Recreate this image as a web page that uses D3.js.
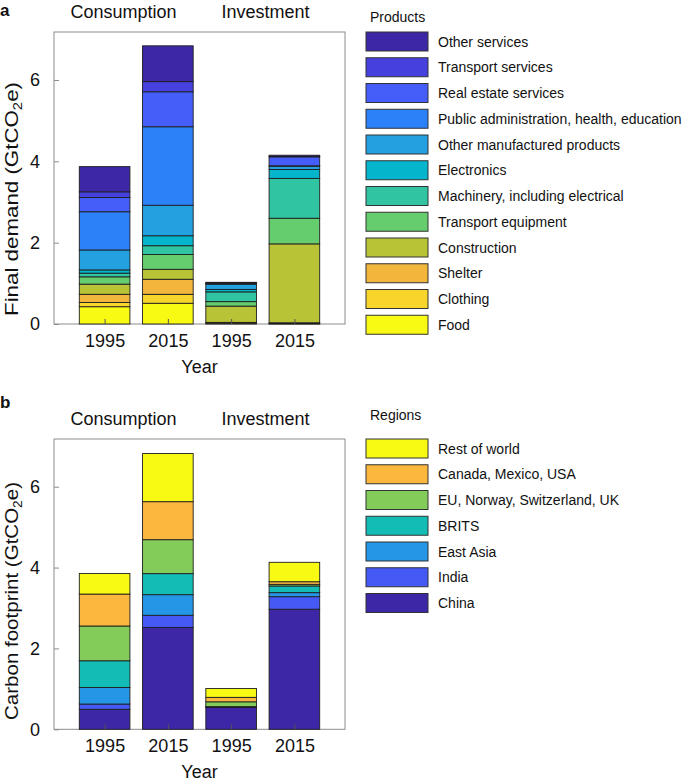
<!DOCTYPE html>
<html>
<head>
<meta charset="utf-8">
<script src="https://cdn.jsdelivr.net/npm/d3@7"></script>
<style>
  html, body { margin: 0; padding: 0; background: #fff; }
  svg { display: block; font-family: "Liberation Sans", Arial, Helvetica, sans-serif; }
</style>
</head>
<body>
<svg id="chart" width="685" height="781"></svg>
<script>
// ---------------- DATA ----------------
const years = ["1995", "2015", "1995", "2015"];
const groups = ["Consumption", "Investment"];
const yTicks = [0, 2, 4, 6];

// Products, listed bottom-to-top of the stack
const products = ["Food", "Clothing", "Shelter", "Construction", "Transport equipment",
  "Machinery, including electrical", "Electronics", "Other manufactured products",
  "Public administration, health, education", "Real estate services",
  "Transport services", "Other services"];
const productColors = ["#f9fa14", "#f8d52a", "#f3b63c", "#b9c336", "#65cd6d", "#30c4a2",
  "#04b5cb", "#23a0e0", "#2c80f8", "#465ef9", "#4640de", "#3d27a6"];
const productsCons1995 = [0.425, 0.105, 0.20, 0.25, 0.18, 0.09, 0.08, 0.49, 0.94, 0.35, 0.14, 0.62];
const productsCons2015 = [0.51, 0.22, 0.37, 0.245, 0.365, 0.215, 0.245, 0.75, 1.93, 0.86, 0.25, 0.88];
const productsInv1995  = [0.01, 0.01, 0.02, 0.40, 0.11, 0.24, 0.06, 0.13, 0.01, 0.015, 0.01, 0.01];
const productsInv2015  = [0.005, 0.005, 0.02, 1.94, 0.63, 0.98, 0.22, 0.08, 0.01, 0.22, 0.01, 0.03];

// Regions, listed bottom-to-top of the stack
const regions = ["China", "India", "East Asia", "BRITS", "EU, Norway, Switzerland, UK",
  "Canada, Mexico, USA", "Rest of world"];
const regionColors = ["#3d27a6", "#4559f5", "#2596e5", "#13bdb6", "#83cc5a", "#fbb73e", "#f9fa14"];
const regionsCons1995 = [0.495, 0.13, 0.41, 0.66, 0.86, 0.79, 0.51];
const regionsCons2015 = [2.52, 0.30, 0.51, 0.52, 0.84, 0.94, 1.19];
const regionsInv1995  = [0.54, 0.01, 0.005, 0.005, 0.12, 0.11, 0.22];
const regionsInv2015  = [2.97, 0.31, 0.10, 0.165, 0.04, 0.065, 0.48];

// ---------------- DRAWING ----------------
const svg = d3.select("#chart");
const FONT = 18;
const boxL = 54, boxR = 345;
const x = d3.scaleLinear().domain([0.2, 4.8]).range([boxL, boxR]);
const barW = x(0.8) - x(0);

function panel(opts) {
  const { top, bottom, stacksArr, keys, colors, letter, letterY, yTitle, titleCenter, titleLen,
          legendTitle, legendTitleY, legendTop } = opts;
  const g = svg.append("g");
  const y = d3.scaleLinear().domain([0, 7.18]).range([bottom, top]);

  // box
  g.append("rect").attr("x", boxL).attr("y", top).attr("width", boxR - boxL)
    .attr("height", bottom - top).attr("fill", "none").attr("stroke", "#8c8c8c").attr("stroke-width", 1);

  // stacked bars
  stacksArr.forEach((vals, i) => {
    const rows = [Object.fromEntries(keys.map((k, j) => [k, vals[j]]))];
    const series = d3.stack().keys(keys)(rows);
    const cx = x(i + 1);
    g.append("g").selectAll("rect").data(series).join("rect")
      .attr("x", cx - barW / 2)
      .attr("width", barW)
      .attr("y", d => y(d[0][1]))
      .attr("height", d => y(d[0][0]) - y(d[0][1]))
      .attr("fill", (d, j) => colors[j])
      .attr("stroke", "#1e1e1e")
      .attr("stroke-width", 0.9);
  });

  // y axis (inward ticks)
  const yAxis = d3.axisLeft(y).tickValues(yTicks).tickSize(-5).tickPadding(14).tickFormat(d3.format("d"));
  const ya = g.append("g").attr("transform", `translate(${boxL},0)`).call(yAxis);
  ya.select(".domain").remove();
  ya.selectAll("line").attr("stroke", "#8c8c8c");
  ya.selectAll("text").attr("font-size", FONT).attr("fill", "#111").attr("font-family", null);

  // x axis (inward ticks)
  const xAxis = d3.axisBottom(x).tickValues([1, 2, 3, 4]).tickSize(-5).tickPadding(10)
    .tickFormat((d, i) => years[i]);
  const xa = g.append("g").attr("transform", `translate(0,${bottom})`).call(xAxis);
  xa.select(".domain").remove();
  xa.selectAll("line").attr("stroke", "#555");
  xa.selectAll("text").attr("font-size", FONT).attr("fill", "#111").attr("font-family", null);

  // axis titles
  g.append("text").attr("x", x(2.5)).attr("y", bottom + 49).attr("text-anchor", "middle")
    .attr("font-size", FONT).attr("fill", "#111").text("Year");

  const yt = g.append("text").attr("transform", `translate(17.5,${titleCenter}) rotate(-90)`)
    .attr("text-anchor", "middle").attr("font-size", 18).attr("fill", "#111")
    .attr("textLength", titleLen).attr("lengthAdjust", "spacingAndGlyphs");
  yt.append("tspan").text(yTitle + " (GtCO");
  yt.append("tspan").attr("font-size", 12).attr("dy", 4).text("2");
  yt.append("tspan").attr("dy", -4).text("e)");

  // group labels
  g.append("text").attr("x", 123.5).attr("y", top - 14).attr("text-anchor", "middle")
    .attr("font-size", FONT).attr("fill", "#111").text(groups[0]);
  g.append("text").attr("x", 265.5).attr("y", top - 14).attr("text-anchor", "middle")
    .attr("font-size", FONT).attr("fill", "#111").text(groups[1]);

  // panel letter
  g.append("text").attr("x", 0).attr("y", letterY).attr("font-size", 17).attr("font-weight", "bold")
    .attr("fill", "#111").text(letter);

  // legend (top-to-bottom = reverse stack order)
  const lg = g.append("g");
  lg.append("text").attr("x", 370).attr("y", legendTitleY).attr("font-size", 14).attr("fill", "#111")
    .text(legendTitle);
  const items = keys.map((k, j) => ({ k, c: colors[j] })).reverse();
  const step = 25.75;
  const it = lg.selectAll("g.item").data(items).join("g").attr("class", "item")
    .attr("transform", (d, i) => `translate(366,${legendTop + i * step})`);
  it.append("rect").attr("width", 62).attr("height", 19).attr("fill", d => d.c)
    .attr("stroke", "#333").attr("stroke-width", 1);
  it.append("text").attr("x", 72).attr("y", 14.5).attr("font-size", 14).attr("fill", "#111").text(d => d.k);
}

panel({
  top: 32, bottom: 324,
  stacksArr: [productsCons1995, productsCons2015, productsInv1995, productsInv2015],
  keys: products, colors: productColors,
  letter: "a", letterY: 16, yTitle: "Final demand", titleCenter: 199, titleLen: 234,
  legendTitle: "Products", legendTitleY: 22, legendTop: 32
});
panel({
  top: 439, bottom: 729.3,
  stacksArr: [regionsCons1995, regionsCons2015, regionsInv1995, regionsInv2015],
  keys: regions, colors: regionColors,
  letter: "b", letterY: 408, yTitle: "Carbon footprint", titleCenter: 601, titleLen: 238,
  legendTitle: "Regions", legendTitleY: 420, legendTop: 439
});
</script>
</body>
</html>
